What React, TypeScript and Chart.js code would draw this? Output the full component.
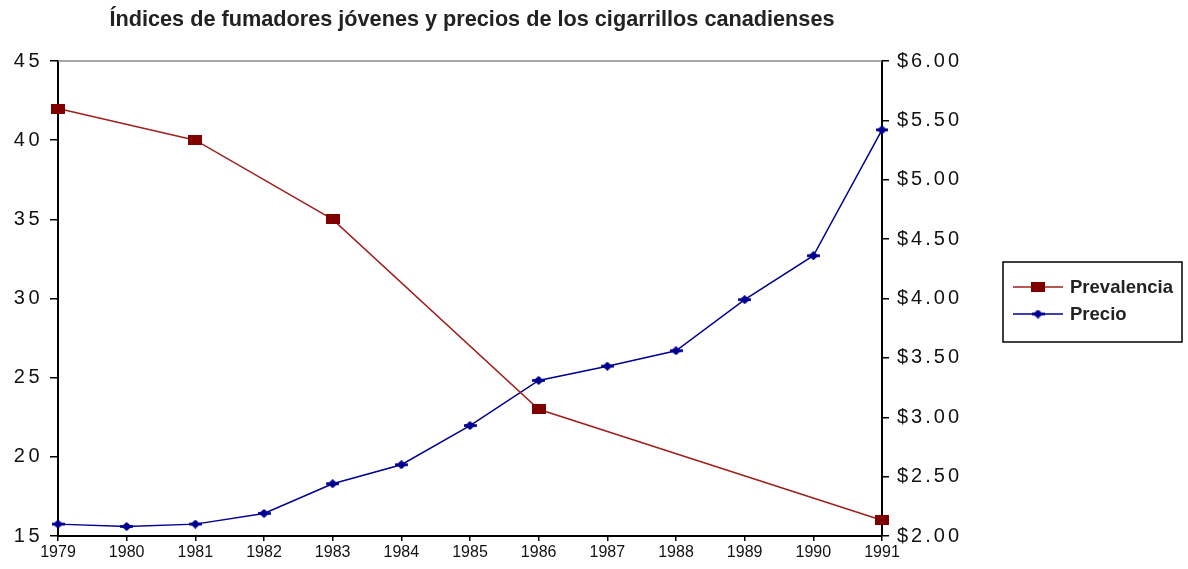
import React, { useEffect, useRef } from "react";
import { Chart, registerables } from "chart.js";

Chart.register(...registerables);

const TITLE = "Índices de fumadores jóvenes y precios de los cigarrillos canadienses";
const years = ["1979", "1980", "1981", "1982", "1983", "1984", "1985", "1986", "1987", "1988", "1989", "1990", "1991"];
const prevalencia: (number | null)[] = [42, null, 40, null, 35, null, null, 23, null, null, null, null, 16];
const precio: number[] = [2.1, 2.08, 2.1, 2.19, 2.44, 2.6, 2.93, 3.31, 3.43, 3.56, 3.99, 4.36, 5.42];
const seriesNames = ["Prevalencia", "Precio"];

const RED_LINE = "#a0201c";
const RED_MARK = "#800000";
const BLUE = "#000090";
const FONT = '"Liberation Sans", Arial, sans-serif';

function makeSquareMarker(): HTMLCanvasElement {
  const c = document.createElement("canvas");
  c.width = 14;
  c.height = 10;
  const g = c.getContext("2d")!;
  g.fillStyle = RED_MARK;
  g.fillRect(0, 0, 14, 10);
  return c;
}

function makeDiamondMarker(): HTMLCanvasElement {
  const c = document.createElement("canvas");
  c.width = 13;
  c.height = 9;
  const g = c.getContext("2d")!;
  g.fillStyle = BLUE;
  g.beginPath();
  g.moveTo(6.5, 0);
  g.lineTo(10, 3);
  g.lineTo(13, 3.2);
  g.lineTo(13, 5.8);
  g.lineTo(10, 6);
  g.lineTo(6.5, 9);
  g.lineTo(3, 6);
  g.lineTo(0, 5.8);
  g.lineTo(0, 3.2);
  g.lineTo(3, 3);
  g.closePath();
  g.fill();
  return c;
}

function fittedText(ctx: CanvasRenderingContext2D, text: string, x: number, y: number, scaleX: number, align: "left" | "center") {
  ctx.save();
  ctx.translate(x, y);
  ctx.scale(scaleX, 1);
  ctx.textAlign = align;
  ctx.fillText(text, 0, 0);
  ctx.restore();
}

function spacedLabels(px: string, width?: number, height?: number) {
  return (s: any) => {
    if (width !== undefined) s.width = width;
    if (height !== undefined) s.height = height;
    if (!s.__spaced) {
      const orig = s.drawLabels.bind(s);
      s.drawLabels = (area: any) => {
        const ctx = s.ctx;
        const prev = ctx.letterSpacing;
        ctx.letterSpacing = px;
        orig(area);
        ctx.letterSpacing = prev || "0px";
      };
      s.__spaced = true;
    }
  };
}

export default function App() {
  const canvasRef = useRef<HTMLCanvasElement | null>(null);

  useEffect(() => {
    document.body.style.margin = "0";
    const canvas = canvasRef.current;
    if (!canvas) return;
    const sq = makeSquareMarker();
    const dm = makeDiamondMarker();

    const decorPlugin = {
      id: "decor",
      beforeDatasetsDraw(chart: any) {
        const { ctx, chartArea } = chart;
        ctx.save();
        ctx.strokeStyle = "#8a8a8a";
        ctx.lineWidth = 1.5;
        ctx.beginPath();
        ctx.moveTo(chartArea.left, chartArea.top);
        ctx.lineTo(chartArea.right, chartArea.top);
        ctx.stroke();
        ctx.restore();
      },
      afterDraw(chart: any) {
        const { ctx, chartArea } = chart;
        ctx.save();
        ctx.letterSpacing = "0px";
        // title
        ctx.fillStyle = "#222";
        ctx.font = "bold 22px " + FONT;
        ctx.textBaseline = "middle";
        const tw = ctx.measureText(TITLE).width;
        fittedText(ctx, TITLE, (chartArea.left + chartArea.right) / 2 + 2, 20, 725 / tw, "center");

        // legend
        const bx = 1003, by = 262, bw = 179, bh = 80;
        ctx.strokeStyle = "#000";
        ctx.lineWidth = 1.5;
        ctx.strokeRect(bx, by, bw, bh);
        const rows = [287, 314];
        ctx.font = "bold 19px " + FONT;
        const lw = ctx.measureText(chart.data.datasets[0].label).width;
        const ls = 103 / lw;
        chart.data.datasets.forEach((ds: any, i: number) => {
          const y = rows[i];
          ctx.strokeStyle = ds.borderColor;
          ctx.lineWidth = 1.5;
          ctx.beginPath();
          ctx.moveTo(1013, y);
          ctx.lineTo(1063, y);
          ctx.stroke();
          const img = ds.pointStyle as HTMLCanvasElement;
          ctx.drawImage(img, 1038 - img.width / 2, y - img.height / 2);
          ctx.fillStyle = "#222";
          fittedText(ctx, ds.label, 1070, y + 1, ls, "left");
        });
        ctx.restore();
      },
    };

    const chart = new Chart(canvas, {
      type: "line",
      data: {
        labels: years,
        datasets: [
          {
            label: seriesNames[0],
            data: prevalencia,
            yAxisID: "y",
            borderColor: RED_LINE,
            backgroundColor: RED_MARK,
            pointBackgroundColor: RED_MARK,
            pointBorderColor: RED_MARK,
            borderWidth: 1.5,
            pointStyle: sq as any,
            pointRadius: 7,
            pointBorderWidth: 0,
            spanGaps: true,
            tension: 0,
          },
          {
            label: seriesNames[1],
            data: precio,
            yAxisID: "y1",
            borderColor: BLUE,
            backgroundColor: BLUE,
            pointBackgroundColor: BLUE,
            pointBorderColor: BLUE,
            borderWidth: 1.5,
            pointStyle: dm as any,
            pointRadius: 6,
            pointBorderWidth: 0,
            tension: 0,
          },
        ],
      },
      options: {
        animation: false,
        responsive: false,
        devicePixelRatio: 1,
        layout: { padding: { top: 61, right: 206, bottom: 0, left: 0 } },
        plugins: {
          legend: { display: false },
          title: { display: false },
          tooltip: { enabled: false },
        },
        scales: {
          x: {
            type: "category",
            offset: false,
            grid: { drawOnChartArea: false, drawTicks: true, tickLength: 5, color: "#000", lineWidth: 1.5 },
            border: { color: "#000", width: 2 },
            ticks: { color: "#111", font: { family: FONT, size: 16 }, padding: 2, maxRotation: 0, autoSkip: false },
            afterFit: (s: any) => { s.height = 33; },
          },
          y: {
            position: "left",
            min: 15,
            max: 45,
            grid: { drawOnChartArea: false, drawTicks: true, tickLength: 8, color: "#000", lineWidth: 1.5 },
            border: { color: "#000", width: 2 },
            ticks: { stepSize: 5, color: "#111", font: { family: FONT, size: 20 }, padding: 7 },
            afterFit: spacedLabels("3.5px", 58),
          },
          y1: {
            position: "right",
            min: 2,
            max: 6,
            grid: { drawOnChartArea: false, drawTicks: true, tickLength: 7, color: "#000", lineWidth: 1.5 },
            border: { color: "#000", width: 2 },
            ticks: {
              stepSize: 0.5,
              color: "#111",
              font: { family: FONT, size: 20 },
              padding: 8,
              callback: (v: any) => "$" + Number(v).toFixed(2),
            },
            afterFit: spacedLabels("3px", 100),
          },
        },
      },
      plugins: [decorPlugin],
    });
    return () => chart.destroy();
  }, []);

  return (
    <div style={{ position: "fixed", left: 0, top: 0, width: 1188, height: 569, background: "#fff" }}>
      <canvas ref={canvasRef} width={1188} height={569} style={{ width: 1188, height: 569, display: "block" }} />
    </div>
  );
}
